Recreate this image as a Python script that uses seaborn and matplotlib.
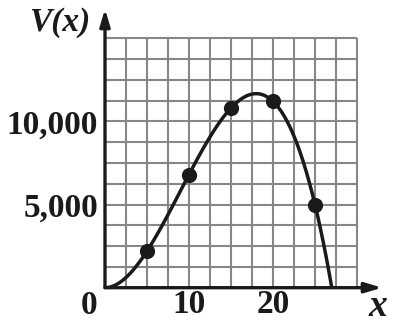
import matplotlib
matplotlib.use("Agg")
import matplotlib.pyplot as plt
import numpy as np
import seaborn as sns

# data
x_vals = [5, 10, 15, 20, 25]
v_vals = [2200, 6800, 10800, 11200, 5000]
x_ticks = [10, 20]
x_tick_labels = ["10", "20"]
y_ticks = [5000, 10000]
y_tick_labels = ["5,000", "10,000"]

sns.set_style("white")
plt.rcParams['font.family'] = ['Liberation Serif', 'DejaVu Serif']

W, H = 393, 325
fig = plt.figure(figsize=(W / 100, H / 100), dpi=100)
ax = fig.add_axes([105 / W, 37.3 / H, 277 / W, 278.7 / H])
XMAX, YMAX = 32.98, 16750
ax.set_xlim(0, XMAX)
ax.set_ylim(0, YMAX)

# grid limited to 0..30, 0..15000
gx = np.arange(2.5, 30.01, 2.5)
gy = np.arange(1250, 15000.1, 1250)
ax.vlines(gx, 0, 15000, colors="#878787", lw=1.5, zorder=1)
ax.hlines(gy, 0, 30, colors="#878787", lw=1.5, zorder=1)

sns.regplot(x=x_vals, y=v_vals, order=3, ci=None, truncate=False, ax=ax,
            scatter_kws=dict(s=120, color="#1a1a1a", zorder=5, linewidths=0, alpha=1),
            line_kws=dict(color="#1a1a1a", lw=2.5, zorder=4))
ax.set_xlim(0, XMAX)
ax.set_ylim(0, YMAX)

for s in ax.spines.values():
    s.set_visible(False)

# axes with arrows
ax.annotate("", xy=(1, 0), xytext=(0, 0), xycoords="axes fraction",
            arrowprops=dict(arrowstyle="-|>,head_length=1.0,head_width=0.3", color="#1a1a1a",
                            lw=2.4, shrinkA=0, shrinkB=0), annotation_clip=False, zorder=6)
ax.annotate("", xy=(0, 1), xytext=(0, 0), xycoords="axes fraction",
            arrowprops=dict(arrowstyle="-|>,head_length=1.0,head_width=0.3", color="#1a1a1a",
                            lw=2.4, shrinkA=0, shrinkB=0), annotation_clip=False, zorder=6)

ax.set_xticks(x_ticks)
ax.set_xticklabels(x_tick_labels)
ax.set_yticks(y_ticks)
ax.set_yticklabels(y_tick_labels)
ax.tick_params(axis="both", length=0, labelsize=24, colors="#1a1a1a")
ax.tick_params(axis="y", pad=5)
ax.tick_params(axis="x", pad=1)
for lab in ax.get_xticklabels() + ax.get_yticklabels():
    lab.set_fontweight("bold")
ax.set_xlabel("")
ax.set_ylabel("")

fig.text(89 / W, 1 - 305 / H, "0", ha="center", va="center", fontsize=24,
         fontweight="bold", color="#1a1a1a")
fig.text(378 / W, 1 - 307 / H, "x", ha="center", va="center", fontsize=27,
         fontweight="bold", fontstyle="italic", color="#1a1a1a")
fig.text(60 / W, 1 - 22 / H, "V(x)", ha="center", va="center", fontsize=24,
         fontweight="bold", fontstyle="italic", color="#1a1a1a")

fig.savefig("out.png", dpi=100)
